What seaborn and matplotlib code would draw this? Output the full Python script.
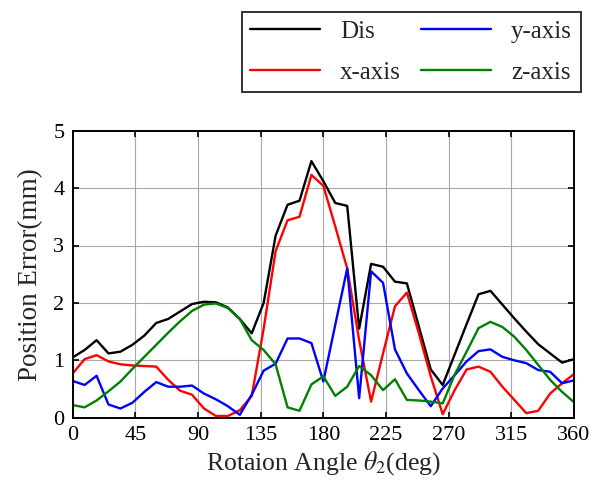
import numpy as np
import pandas as pd
import seaborn as sns
import matplotlib
matplotlib.use("Agg")
import matplotlib.pyplot as plt

# Rotation angles (deg), sampled every 360/42 deg
angles = [0.0, 8.57, 17.14, 25.71, 34.29, 42.86, 51.43, 60.0, 68.57, 77.14,
          85.71, 94.29, 102.86, 111.43, 120.0, 128.57, 137.14, 145.71, 154.29,
          162.86, 171.43, 180.0, 188.57, 197.14, 205.71, 214.29, 222.86,
          231.43, 240.0, 248.57, 257.14, 265.71, 274.29, 282.86, 291.43,
          300.0, 308.57, 317.14, 325.71, 334.29, 342.86, 351.43, 360.0]

dis = [1.05, 1.18, 1.35, 1.12, 1.15, 1.27, 1.43, 1.65, 1.72, 1.85,
       1.98, 2.02, 2.01, 1.92, 1.72, 1.47, 2.00, 3.17, 3.71, 3.78,
       4.47, 4.12, 3.74, 3.69, 1.55, 2.68, 2.63, 2.37, 2.34, 1.59,
       0.84, 0.57, 1.10, 1.63, 2.15, 2.21, 1.97, 1.73, 1.50, 1.28,
       1.12, 0.96, 1.02]

x_err = [0.77, 1.02, 1.09, 0.98, 0.93, 0.91, 0.90, 0.89, 0.66, 0.47,
         0.40, 0.16, 0.03, 0.03, 0.13, 0.38, 1.55, 2.90, 3.44, 3.50,
         4.23, 4.04, 3.33, 2.60, 1.35, 0.28, 1.12, 1.94, 2.18, 1.47,
         0.72, 0.06, 0.48, 0.84, 0.89, 0.80, 0.54, 0.31, 0.08, 0.12,
         0.42, 0.60, 0.76]

y_err = [0.64, 0.57, 0.73, 0.23, 0.16, 0.26, 0.45, 0.62, 0.54, 0.54,
         0.56, 0.42, 0.32, 0.20, 0.05, 0.40, 0.82, 0.94, 1.38, 1.38,
         1.30, 0.63, 1.62, 2.60, 0.34, 2.55, 2.35, 1.19, 0.77, 0.48,
         0.20, 0.51, 0.74, 0.98, 1.16, 1.19, 1.06, 1.00, 0.95, 0.83,
         0.80, 0.60, 0.65]

z_err = [0.22, 0.18, 0.30, 0.46, 0.63, 0.85, 1.06, 1.27, 1.48, 1.68,
         1.86, 1.97, 1.99, 1.91, 1.72, 1.35, 1.18, 0.93, 0.18, 0.12,
         0.58, 0.72, 0.38, 0.54, 0.90, 0.74, 0.48, 0.67, 0.31, 0.30,
         0.28, 0.25, 0.75, 1.15, 1.56, 1.67, 1.58, 1.41, 1.18, 0.92,
         0.66, 0.45, 0.27]

series_names = ["Dis", "x-axis", "y-axis", "z-axis"]
series_colors = ["#000000", "#ff0000", "#0000ff", "#008000"]
x_ticks = [0, 45, 90, 135, 180, 225, 270, 315, 360]
y_ticks = [0, 1, 2, 3, 4, 5]

df = pd.concat(
    [pd.DataFrame({"angle": angles, "error": vals, "series": name})
     for name, vals in zip(series_names, [dis, x_err, y_err, z_err])],
    ignore_index=True,
)

sns.set_theme(style="ticks")
plt.rcParams["font.family"] = ["Liberation Serif", "DejaVu Serif"]
plt.rcParams["mathtext.fontset"] = "stix"

fig = plt.figure(figsize=(5.92, 4.91), dpi=100)
ax = fig.add_axes([0.1228, 0.1493, 0.8468, 0.5845])

sns.lineplot(data=df, x="angle", y="error", hue="series",
             hue_order=series_names, palette=series_colors,
             linewidth=1.7, ax=ax, legend=False)

ax.set_xlim(0, 360)
ax.set_ylim(0, 5)
ax.set_xticks(x_ticks)
ax.set_yticks(y_ticks)
ax.grid(True, color="#a8a8a8", linewidth=0.8)
ax.set_axisbelow(True)
ax.tick_params(direction="in", top=True, right=True, length=4, width=1.2,
               labelsize=16, colors="black", pad=6)
for sp in ax.spines.values():
    sp.set_linewidth(1.4)
    sp.set_color("black")

ax.set_xlabel(r"Rotaion Angle $\theta_2$(deg)", fontsize=18.5, labelpad=3)
ax.set_ylabel("Position Error(mm)", fontsize=19.5, labelpad=7)

handles = ax.get_lines()[:4]
leg = fig.legend(handles, series_names, loc="upper right",
                 bbox_to_anchor=(0.981, 0.976), ncol=2, fontsize=18,
                 frameon=True, fancybox=False, edgecolor="black",
                 handlelength=2.8, handletextpad=0.8, columnspacing=0.8,
                 labelspacing=0.72, borderpad=0.35, borderaxespad=0)
leg.get_frame().set_linewidth(1.4)

fig.savefig("out.png", dpi=100)
